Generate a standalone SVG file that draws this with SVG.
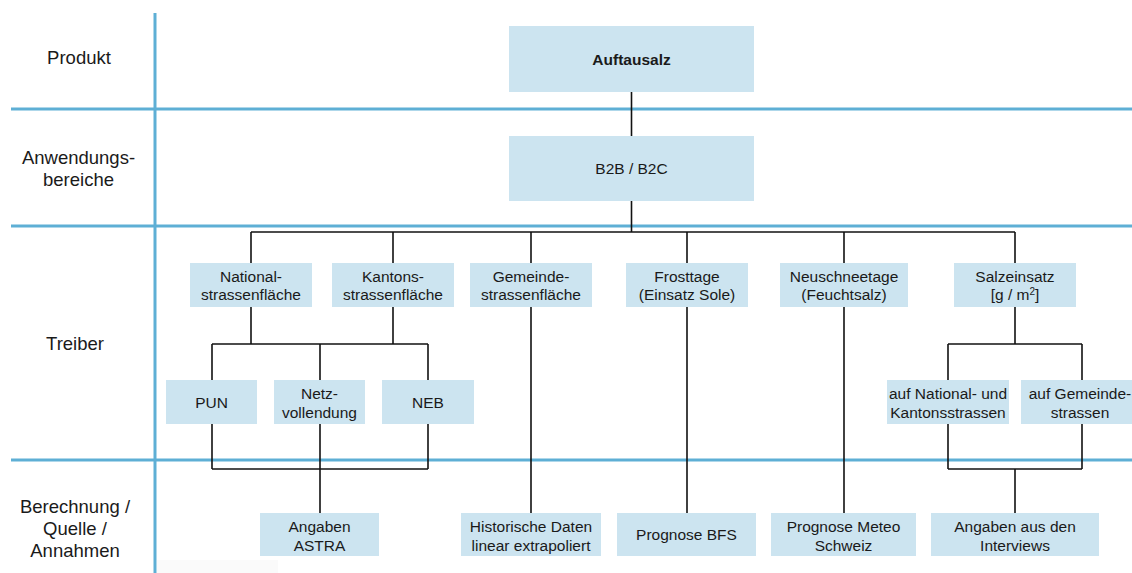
<svg xmlns="http://www.w3.org/2000/svg" width="1132" height="573" viewBox="0 0 1132 573">
  <style>
    .grid { stroke: #5eafd5; stroke-width: 3; fill: none; }
    .link { stroke: #111; stroke-width: 1.6; fill: none; }
    .box { fill: #cce4f0; }
    .lbl { font-family: "Liberation Sans", Arial, sans-serif; font-size: 18.5px; fill: #1a1a1a; text-anchor: middle; }
    .txt { font-family: "Liberation Sans", Arial, sans-serif; font-size: 15.5px; fill: #1a1a1a; text-anchor: middle; }
    .bold { font-weight: bold; }
  </style>

  <rect width="1132" height="573" fill="#ffffff"/>
  <rect x="157" y="560" width="121" height="13" fill="#fafafa"/>

  <!-- swimlane grid -->
  <g id="grid">
    <line class="grid" x1="155" y1="13" x2="155" y2="573"/>
    <line class="grid" x1="11" y1="109" x2="1132" y2="109"/>
    <line class="grid" x1="11" y1="226" x2="1132" y2="226"/>
    <line class="grid" x1="11" y1="460" x2="1132" y2="460"/>
  </g>

  <!-- lane titles -->
  <g id="lane-labels">
    <text class="lbl" x="79" y="63.5">Produkt</text>
    <text class="lbl" x="78.5" y="163.5">Anwendungs-</text>
    <text class="lbl" x="78.5" y="185.5">bereiche</text>
    <text class="lbl" x="75" y="349.5">Treiber</text>
    <text class="lbl" x="75" y="513">Berechnung /</text>
    <text class="lbl" x="75" y="534.5">Quelle /</text>
    <text class="lbl" x="75" y="556.5">Annahmen</text>
  </g>

  <!-- connectors -->
  <g id="connectors">
    <line class="link" x1="631.5" y1="92" x2="631.5" y2="136"/>
    <line class="link" x1="631.5" y1="201" x2="631.5" y2="232"/>
    <line class="link" x1="251" y1="232" x2="1015" y2="232"/>
    <line class="link" x1="251" y1="232" x2="251" y2="263"/>
    <line class="link" x1="393" y1="232" x2="393" y2="263"/>
    <line class="link" x1="531" y1="232" x2="531" y2="263"/>
    <line class="link" x1="687" y1="232" x2="687" y2="263"/>
    <line class="link" x1="844" y1="232" x2="844" y2="263"/>
    <line class="link" x1="1015" y1="232" x2="1015" y2="263"/>

    <!-- road surfaces -->
    <line class="link" x1="251" y1="307" x2="251" y2="344"/>
    <line class="link" x1="393" y1="307" x2="393" y2="344"/>
    <line class="link" x1="212" y1="344" x2="428" y2="344"/>
    <line class="link" x1="212" y1="344" x2="212" y2="380"/>
    <line class="link" x1="320" y1="344" x2="320" y2="380"/>
    <line class="link" x1="428" y1="344" x2="428" y2="380"/>
    <line class="link" x1="212" y1="424" x2="212" y2="469"/>
    <line class="link" x1="320" y1="424" x2="320" y2="513"/>
    <line class="link" x1="428" y1="424" x2="428" y2="469"/>
    <line class="link" x1="212" y1="469" x2="428" y2="469"/>

    <!-- direct drivers -->
    <line class="link" x1="531" y1="307" x2="531" y2="513"/>
    <line class="link" x1="687" y1="307" x2="687" y2="513"/>
    <line class="link" x1="844" y1="307" x2="844" y2="513"/>

    <!-- salt usage -->
    <line class="link" x1="1015" y1="307" x2="1015" y2="344"/>
    <line class="link" x1="948" y1="344" x2="1082" y2="344"/>
    <line class="link" x1="948" y1="344" x2="948" y2="380"/>
    <line class="link" x1="1082" y1="344" x2="1082" y2="380"/>
    <line class="link" x1="948" y1="424" x2="948" y2="469"/>
    <line class="link" x1="1082" y1="424" x2="1082" y2="469"/>
    <line class="link" x1="948" y1="469" x2="1082" y2="469"/>
    <line class="link" x1="1015" y1="469" x2="1015" y2="513"/>
  </g>

  <!-- product -->
  <g id="auftausalz">
    <rect class="box" x="509" y="26" width="245" height="66"/>
    <text class="txt bold" x="631.5" y="64.5">Auftausalz</text>
  </g>
  <g id="b2b-b2c">
    <rect class="box" x="509" y="136" width="245" height="65"/>
    <text class="txt" x="631.5" y="173.5">B2B / B2C</text>
  </g>

  <!-- drivers -->
  <g id="nationalstrassenflaeche">
    <rect class="box" x="190" y="263" width="122" height="44"/>
    <text class="txt" x="251" y="281.5">National-</text>
    <text class="txt" x="251" y="299.5">strassenfläche</text>
  </g>
  <g id="kantonsstrassenflaeche">
    <rect class="box" x="332" y="263" width="122" height="44"/>
    <text class="txt" x="393" y="281.5">Kantons-</text>
    <text class="txt" x="393" y="299.5">strassenfläche</text>
  </g>
  <g id="gemeindestrassenflaeche">
    <rect class="box" x="470" y="263" width="122" height="44"/>
    <text class="txt" x="531" y="281.5">Gemeinde-</text>
    <text class="txt" x="531" y="299.5">strassenfläche</text>
  </g>
  <g id="frosttage">
    <rect class="box" x="626" y="263" width="122" height="44"/>
    <text class="txt" x="687" y="281.5">Frosttage</text>
    <text class="txt" x="687" y="299.5">(Einsatz Sole)</text>
  </g>
  <g id="neuschneetage">
    <rect class="box" x="780" y="263" width="128" height="44"/>
    <text class="txt" x="844" y="281.5">Neuschneetage</text>
    <text class="txt" x="844" y="299.5">(Feuchtsalz)</text>
  </g>
  <g id="salzeinsatz">
    <rect class="box" x="954" y="263" width="122" height="44"/>
    <text class="txt" x="1015" y="281.5">Salzeinsatz</text>
    <text class="txt" x="1015" y="299.5">[g / m<tspan font-size="10" dy="-5">2</tspan><tspan dy="5">]</tspan></text>
  </g>

  <g id="pun">
    <rect class="box" x="166" y="380" width="91" height="44"/>
    <text class="txt" x="211.5" y="407.5">PUN</text>
  </g>
  <g id="netzvollendung">
    <rect class="box" x="274" y="380" width="91" height="44"/>
    <text class="txt" x="319.5" y="398.5">Netz-</text>
    <text class="txt" x="319.5" y="417.5">vollendung</text>
  </g>
  <g id="neb">
    <rect class="box" x="382" y="380" width="92" height="44"/>
    <text class="txt" x="428" y="407.5">NEB</text>
  </g>
  <g id="national-kantonsstrassen">
    <rect class="box" x="887" y="380" width="122" height="44"/>
    <text class="txt" x="948" y="398.5">auf National- und</text>
    <text class="txt" x="948" y="417.5">Kantonsstrassen</text>
  </g>
  <g id="gemeindestrassen">
    <rect class="box" x="1021" y="380" width="122" height="44"/>
    <text class="txt" x="1080" y="398.5">auf Gemeinde-</text>
    <text class="txt" x="1080" y="417.5">strassen</text>
  </g>

  <!-- sources -->
  <g id="angaben-astra">
    <rect class="box" x="260" y="513" width="119" height="43"/>
    <text class="txt" x="319.5" y="531.5">Angaben</text>
    <text class="txt" x="319.5" y="550.5">ASTRA</text>
  </g>
  <g id="historische-daten">
    <rect class="box" x="461" y="513" width="140" height="43"/>
    <text class="txt" x="531" y="531.5">Historische Daten</text>
    <text class="txt" x="531" y="550.5">linear extrapoliert</text>
  </g>
  <g id="prognose-bfs">
    <rect class="box" x="617" y="513" width="139" height="43"/>
    <text class="txt" x="686.5" y="540">Prognose BFS</text>
  </g>
  <g id="prognose-meteo">
    <rect class="box" x="771" y="513" width="145" height="43"/>
    <text class="txt" x="843.5" y="531.5">Prognose Meteo</text>
    <text class="txt" x="843.5" y="550.5">Schweiz</text>
  </g>
  <g id="angaben-interviews">
    <rect class="box" x="931" y="513" width="168" height="43"/>
    <text class="txt" x="1015" y="531.5">Angaben aus den</text>
    <text class="txt" x="1015" y="550.5">Interviews</text>
  </g>
</svg>
